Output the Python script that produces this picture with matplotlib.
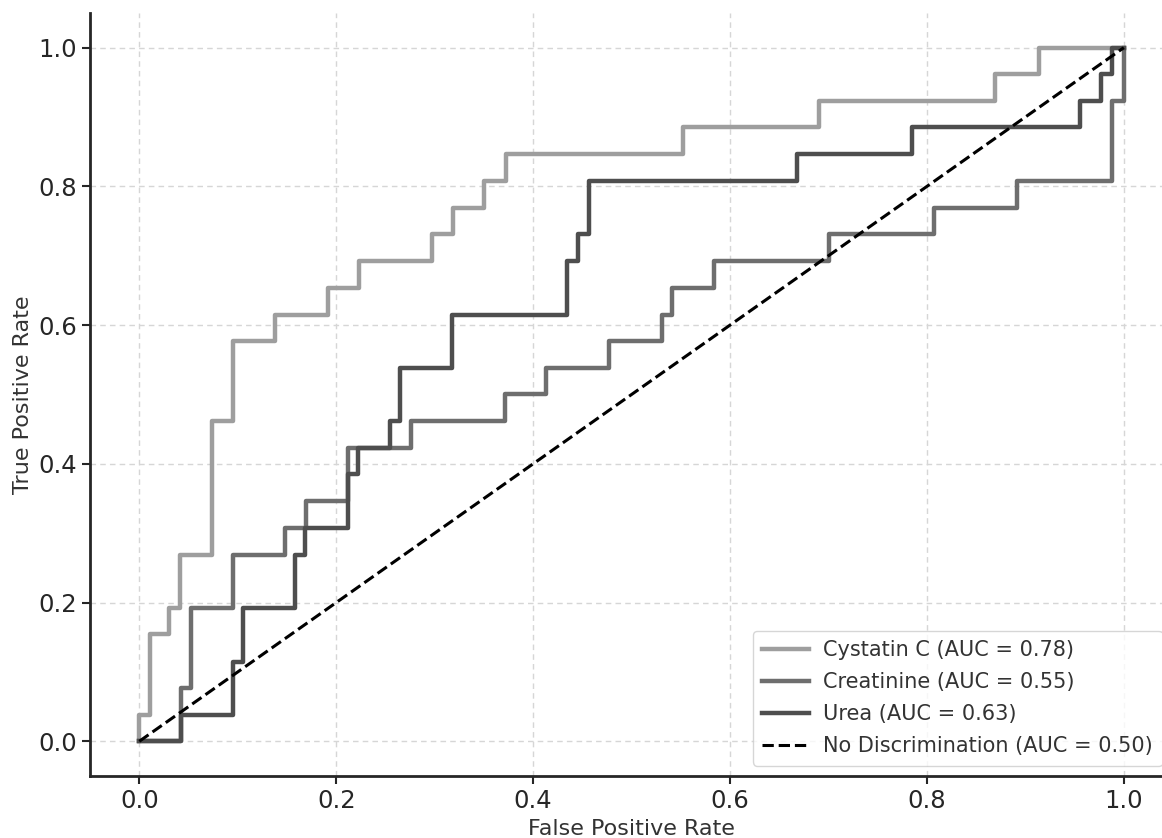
import matplotlib
matplotlib.use("Agg")
import matplotlib.pyplot as plt

# ROC corner points
cys_fpr = [0, 0, 0.0109, 0.0109, 0.0305, 0.0305, 0.0417, 0.0417, 0.0738, 0.0738,
           0.0949, 0.0949, 0.1379, 0.1379, 0.1914, 0.1914, 0.2229, 0.2229, 0.297, 0.297,
           0.3184, 0.3184, 0.3506, 0.3506, 0.372, 0.372, 0.552, 0.552, 0.690, 0.690,
           0.8696, 0.8696, 0.914, 0.914, 1.0]
cys_tpr = [0, 0.0385, 0.0385, 0.154, 0.154, 0.192, 0.192, 0.269, 0.269, 0.462,
           0.462, 0.577, 0.577, 0.615, 0.615, 0.654, 0.654, 0.692, 0.692, 0.731,
           0.731, 0.769, 0.769, 0.808, 0.808, 0.846, 0.846, 0.885, 0.885, 0.923,
           0.923, 0.962, 0.962, 1.0, 1.0]

cre_fpr = [0, 0.042, 0.042, 0.0525, 0.0525, 0.0949, 0.0949, 0.148, 0.148, 0.169,
           0.169, 0.2117, 0.2117, 0.276, 0.276, 0.371, 0.371, 0.413, 0.413, 0.477,
           0.477, 0.531, 0.531, 0.541, 0.541, 0.584, 0.584, 0.701, 0.701, 0.807,
           0.807, 0.892, 0.892, 0.9875, 0.9875, 1.0, 1.0]
cre_tpr = [0, 0, 0.077, 0.077, 0.192, 0.192, 0.269, 0.269, 0.308, 0.308,
           0.346, 0.346, 0.423, 0.423, 0.462, 0.462, 0.5, 0.5, 0.538, 0.538,
           0.577, 0.577, 0.615, 0.615, 0.654, 0.654, 0.692, 0.692, 0.731, 0.731,
           0.769, 0.769, 0.808, 0.808, 0.923, 0.923, 1.0]

urea_fpr = [0, 0.042, 0.042, 0.0949, 0.0949, 0.105, 0.105, 0.158, 0.158, 0.168,
            0.168, 0.2117, 0.2117, 0.222, 0.222, 0.255, 0.255, 0.265, 0.265, 0.318,
            0.318, 0.4346, 0.4346, 0.446, 0.446, 0.4566, 0.4566, 0.668, 0.668, 0.785,
            0.785, 0.956, 0.956, 0.977, 0.977, 0.9885, 0.9885, 1.0]
urea_tpr = [0, 0, 0.0385, 0.0385, 0.115, 0.115, 0.192, 0.192, 0.269, 0.269,
            0.308, 0.308, 0.385, 0.385, 0.423, 0.423, 0.462, 0.462, 0.538, 0.538,
            0.615, 0.615, 0.692, 0.692, 0.731, 0.731, 0.808, 0.808, 0.846, 0.846,
            0.885, 0.885, 0.923, 0.923, 0.962, 0.962, 1.0, 1.0]

labels = ["Cystatin C (AUC = 0.78)", "Creatinine (AUC = 0.55)",
          "Urea (AUC = 0.63)", "No Discrimination (AUC = 0.50)"]
ticks = [0.0, 0.2, 0.4, 0.6, 0.8, 1.0]

fig = plt.figure(figsize=(11.62, 8.38), dpi=100)
ax = fig.add_axes([0.0775, 0.0740, 0.932, 0.9105])

ax.plot(cys_fpr, cys_tpr, color="#9e9e9e", lw=3.2, label=labels[0])
ax.plot(cre_fpr, cre_tpr, color="#6e6e6e", lw=3.2, label=labels[1])
ax.plot(urea_fpr, urea_tpr, color="#4e4e4e", lw=3.2, label=labels[2])
ax.plot([0, 1], [0, 1], color="black", lw=2.2, ls="--", label=labels[3])

ax.set_xlim(-0.05, 1.05)
ax.set_ylim(-0.05, 1.05)
ax.set_xticks(ticks)
ax.set_yticks(ticks)
ax.tick_params(labelsize=17.5, colors="#262626", length=6, width=1.5)
ax.set_xlabel("False Positive Rate", fontsize=16, color="#333333")
ax.set_ylabel("True Positive Rate", fontsize=16, color="#333333")

for side in ["top", "right"]:
    ax.spines[side].set_visible(False)
for side in ["left", "bottom"]:
    ax.spines[side].set_linewidth(2)
    ax.spines[side].set_color("#262626")

ax.grid(True, color="#d6d6d6", lw=1, dashes=(4, 3))
ax.set_axisbelow(True)

leg = ax.legend(loc="lower right", fontsize=15, frameon=True, fancybox=True,
                handlelength=2.25, handletextpad=0.7, labelspacing=0.58,
                borderpad=0.45, borderaxespad=0.5)
leg.get_frame().set_edgecolor("#cccccc")
for t in leg.get_texts():
    t.set_color("#333333")

fig.savefig("out.png", dpi=100)
